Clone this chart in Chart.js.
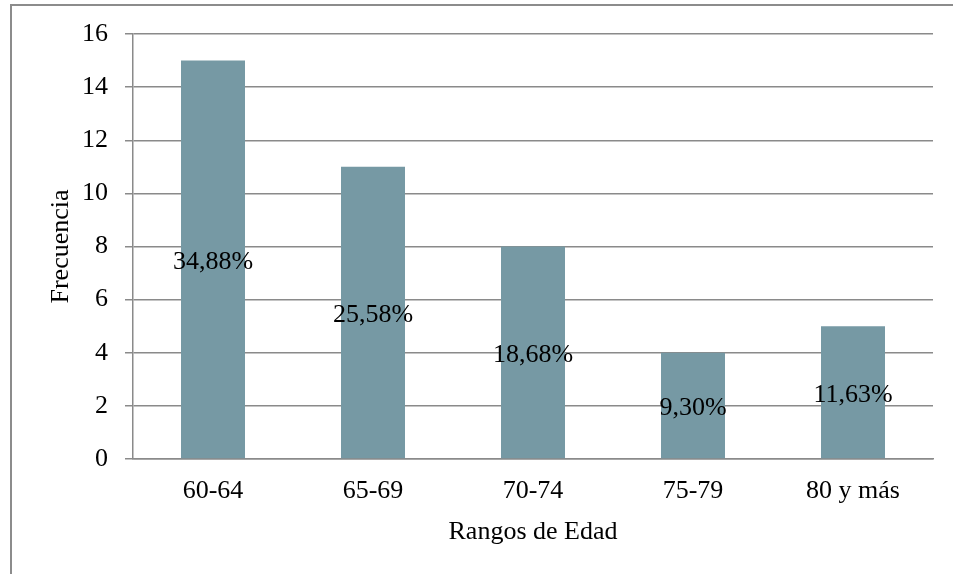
<!DOCTYPE html>
<html>
<head>
<meta charset="utf-8">
<script src="https://cdn.jsdelivr.net/npm/chart.js@4/dist/chart.umd.min.js"></script>
<style>
  html, body { margin: 0; padding: 0; background: #ffffff; }
  #wrap { width: 953px; height: 574px; position: relative; }
</style>
</head>
<body>
<div id="wrap"><canvas id="c" width="953" height="574"></canvas></div>
<script>
// Age ranges and how many people fall in each
const categories = ['60-64', '65-69', '70-74', '75-79', '80 y más'];
const frequencies = [15, 11, 8, 4, 5];
const percentLabels = ['34,88%', '25,58%', '18,68%', '9,30%', '11,63%'];
const yTicks = [0, 2, 4, 6, 8, 10, 12, 14, 16];

const FONT = "'Liberation Serif', 'Times New Roman', serif";
const FONT_SIZE = 26;
const GRID = '#8a8a8a';

// Outer frame around the figure
const framePlugin = {
  id: 'frame',
  beforeDraw(chart) {
    const ctx = chart.ctx;
    ctx.save();
    ctx.fillStyle = '#ffffff';
    ctx.fillRect(0, 0, chart.width, chart.height);
    ctx.strokeStyle = '#8c8c8c';
    ctx.lineWidth = 2;
    ctx.strokeRect(11, 5, 1200, 1200);
    ctx.restore();
  }
};

// Percentage written in the middle of each bar
const percentPlugin = {
  id: 'percentLabels',
  afterDatasetsDraw(chart) {
    const ctx = chart.ctx;
    const meta = chart.getDatasetMeta(0);
    ctx.save();
    ctx.font = FONT_SIZE + 'px ' + FONT;
    ctx.fillStyle = '#000000';
    ctx.textAlign = 'center';
    ctx.textBaseline = 'middle';
    meta.data.forEach((bar, i) => {
      const y = (bar.y + bar.base) / 2;
      ctx.fillText(percentLabels[i], bar.x, y + 3);
    });
    ctx.restore();
  }
};

new Chart(document.getElementById('c'), {
  type: 'bar',
  data: {
    labels: categories,
    datasets: [{
      data: frequencies,
      backgroundColor: '#7699a4',
      borderWidth: 0,
      categoryPercentage: 1,
      barPercentage: 0.4
    }]
  },
  options: {
    responsive: false,
    animation: false,
    devicePixelRatio: 1,
    layout: { padding: { left: 40, right: 20, top: 34, bottom: 0 } },
    plugins: {
      legend: { display: false },
      tooltip: { enabled: false }
    },
    scales: {
      x: {
        grid: { display: false, drawTicks: false },
        border: { display: true, color: GRID, width: 1.5 },
        ticks: { color: '#000000', font: { family: FONT, size: FONT_SIZE }, padding: 17, maxRotation: 0 },
        title: {
          display: true, text: 'Rangos de Edad', color: '#000000',
          font: { family: FONT, size: FONT_SIZE }, padding: { top: 0, bottom: 26 }
        },
        afterFit(scale) { scale.height = 574 - 459; }
      },
      y: {
        min: 0, max: 16,
        afterBuildTicks(scale) { scale.ticks = yTicks.map(v => ({ value: v })); },
        grid: { color: GRID, lineWidth: 1.5, tickLength: 8, drawTicks: true, tickColor: GRID },
        border: { display: true, color: GRID, width: 1.5 },
        ticks: { color: '#000000', font: { family: FONT, size: FONT_SIZE }, padding: 17 },
        title: {
          display: true, text: 'Frecuencia', color: '#000000',
          font: { family: FONT, size: FONT_SIZE }, padding: { top: 6, bottom: 0 }
        },
        afterFit(scale) { scale.width = 133 - 40; }
      }
    }
  },
  plugins: [framePlugin, percentPlugin]
});
</script>
</body>
</html>
